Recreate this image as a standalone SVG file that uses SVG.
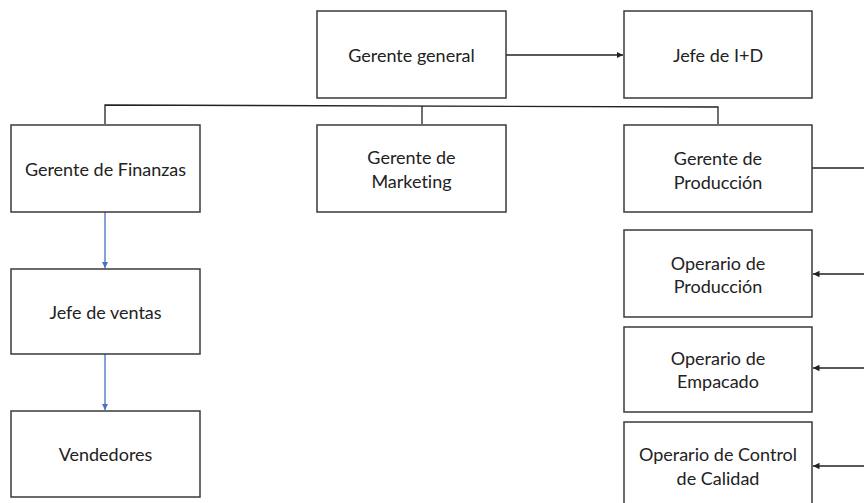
<svg xmlns="http://www.w3.org/2000/svg" width="864" height="503" viewBox="0 0 864 503">
<style>
.box{fill:#fff;stroke:#3a3a3a;stroke-width:1.5}
.t{font-family:Lato,"Open Sans",sans-serif;font-size:18px;fill:#222;text-anchor:middle;dominant-baseline:central;font-variant-ligatures:none}
.k{fill:none;stroke:#222;stroke-width:1.3}
.b{fill:none;stroke:#4472C4;stroke-width:1.3}
</style>
<defs>
<marker id="ak" viewBox="0 0 10 10" refX="10" refY="5" markerWidth="5" markerHeight="5" orient="auto"><path d="M0,0L10,5L0,10z" fill="#222"/></marker>
<marker id="ab" viewBox="0 0 10 10" refX="10" refY="5" markerWidth="5" markerHeight="5" orient="auto"><path d="M0,0L10,5L0,10z" fill="#4472C4"/></marker>
</defs>
<rect width="864" height="503" fill="#fff"/>
<g id="connectors">
<path class="k" d="M506,55H623" marker-end="url(#ak)"/>
<path class="k" d="M105,124V105L718,107V124"/>
<path class="k" d="M422,106V124"/>
<path class="b" d="M105,212V268" marker-end="url(#ab)"/>
<path class="b" d="M105,354V410" marker-end="url(#ab)"/>
<path class="k" d="M812,168H864"/>
<path class="k" d="M864,274H813" marker-end="url(#ak)"/>
<path class="k" d="M864,368H813" marker-end="url(#ak)"/>
<path class="k" d="M864,466H813" marker-end="url(#ak)"/>
</g>
<g id="gerente-general"><rect class="box" x="317" y="11" width="189" height="87"/><text class="t" x="411.5" y="55">Gerente general</text></g>
<g id="jefe-id"><rect class="box" x="624" y="11" width="188" height="87"/><text class="t" x="718" y="55">Jefe de I+D</text></g>
<g id="gerente-finanzas"><rect class="box" x="11" y="125" width="189" height="87"/><text class="t" x="105.5" y="169">Gerente de Finanzas</text></g>
<g id="gerente-marketing"><rect class="box" x="317" y="125" width="189" height="87"/><text class="t" x="411.5" y="157">Gerente de</text><text class="t" x="411.5" y="181">Marketing</text></g>
<g id="gerente-produccion"><rect class="box" x="624" y="125" width="188" height="87"/><text class="t" x="718" y="158">Gerente de</text><text class="t" x="718" y="182">Producción</text></g>
<g id="jefe-ventas"><rect class="box" x="11" y="269" width="189" height="85"/><text class="t" x="105.5" y="312">Jefe de ventas</text></g>
<g id="vendedores"><rect class="box" x="11" y="411" width="189" height="86"/><text class="t" x="105.5" y="454">Vendedores</text></g>
<g id="operario-produccion"><rect class="box" x="624" y="230" width="188" height="87"/><text class="t" x="718" y="263">Operario de</text><text class="t" x="718" y="286">Producción</text></g>
<g id="operario-empacado"><rect class="box" x="624" y="327" width="188" height="85"/><text class="t" x="718" y="358">Operario de</text><text class="t" x="718" y="381">Empacado</text></g>
<g id="operario-calidad"><rect class="box" x="624" y="422" width="188" height="90"/><text class="t" x="718" y="454">Operario de Control</text><text class="t" x="718" y="478">de Calidad</text></g>
</svg>
